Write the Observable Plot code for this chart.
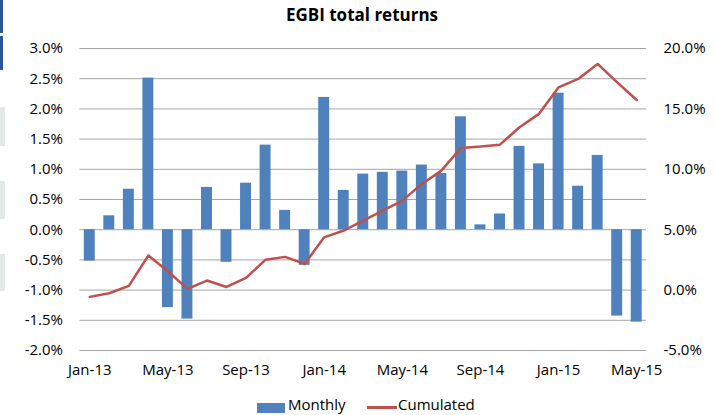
<!DOCTYPE html>
<html>
<head>
<meta charset="utf-8">
<script src="https://cdn.jsdelivr.net/npm/d3@7"></script>
<script src="https://cdn.jsdelivr.net/npm/@observablehq/plot@0.6"></script>
<style>
  html, body { margin: 0; padding: 0; background: #fff; }
  body { width: 716px; height: 415px; position: relative; overflow: hidden; font-family: "Open Sans", sans-serif; }
  #title { height: 30px; line-height: 30px; text-align: center; font-weight: bold; font-size: 17px; color: #000; padding-left: 8px; box-sizing: border-box; }
  #legend { position: relative; height: 25px; font-size: 15px; color: #000; }
  .deco { position: absolute; left: 0; }
</style>
</head>
<body>
<div class="deco" style="top:0;width:3px;height:33px;background:#2f5496"></div>
<div class="deco" style="top:36px;width:3px;height:34px;background:#2f5496"></div>
<div class="deco" style="top:107px;width:5px;height:39px;background:#e4e8e8"></div>
<div class="deco" style="top:181px;width:5px;height:38px;background:#e4e8e8"></div>
<div class="deco" style="top:254px;width:5px;height:37px;background:#e4e8e8"></div>
<div id="title">EGBI total returns</div>
<div id="chart"></div>
<div id="legend"></div>
<script>
const months = ["Jan-13","Feb-13","Mar-13","Apr-13","May-13","Jun-13","Jul-13","Aug-13","Sep-13","Oct-13","Nov-13","Dec-13",
                "Jan-14","Feb-14","Mar-14","Apr-14","May-14","Jun-14","Jul-14","Aug-14","Sep-14","Oct-14","Nov-14","Dec-14",
                "Jan-15","Feb-15","Mar-15","Apr-15","May-15"];
const monthly = [-0.52,0.23,0.67,2.51,-1.29,-1.48,0.70,-0.54,0.77,1.40,0.32,-0.59,
                 2.19,0.65,0.92,0.95,0.97,1.07,0.93,1.87,0.08,0.26,1.38,1.09,
                 2.26,0.72,1.23,-1.43,-1.53];
const cumulated = [-0.56,-0.26,0.35,2.86,1.56,0.10,0.79,0.26,1.01,2.52,2.75,2.17,
                   4.37,4.93,5.75,6.58,7.41,8.79,9.89,11.77,11.88,12.04,13.48,14.59,
                   16.79,17.48,18.72,17.20,15.74];
const xTickLabels = ["Jan-13","May-13","Sep-13","Jan-14","May-14","Sep-14","Jan-15","May-15"];
const leftTicks = [-2,-1.5,-1,-0.5,0,0.5,1,1.5,2,2.5,3];
const rightTicks = [-5,0,5,10,15,20];
const seriesNames = ["Monthly","Cumulated"];

const barColor = "#4f81bd";
const lineColor = "#c0504d";

// right axis (-5..20) mapped onto left axis (-2..3)
const toLeft = r => (r + 5) / 25 * 5 - 2;
const toRight = v => (v + 2) / 5 * 25 - 5;

const data = months.map((m, i) => ({month: m, monthly: monthly[i], cum: cumulated[i]}));

const chart = Plot.plot({
  width: 716,
  height: 360,
  marginTop: 18,
  marginBottom: 40,
  marginLeft: 79.5,
  marginRight: 70,
  style: {fontFamily: "Open Sans", fontSize: "15px", color: "#000", background: "white", overflow: "visible"},
  x: {type: "band", domain: months, paddingInner: 0.44, paddingOuter: 0.22, round: false, label: null},
  y: {domain: [-2, 3], label: null},
  marks: [
    Plot.ruleY(leftTicks, {stroke: "#a6a6a6", strokeWidth: 1}),
    Plot.barY(data, {x: "month", y: "monthly", fill: barColor}),
    Plot.line(data, {x: "month", y: d => toLeft(d.cum), stroke: lineColor, strokeWidth: 2.5}),
    Plot.axisX({ticks: xTickLabels, tickSize: 0, tickPadding: 14, fill: "#000", label: null}),
    Plot.axisY({anchor: "left", ticks: leftTicks, tickFormat: d => d.toFixed(1) + "%", tickSize: 0, tickPadding: 17, fill: "#000", label: null}),
    Plot.axisY({anchor: "right", ticks: rightTicks.map(toLeft), tickFormat: v => toRight(v).toFixed(1) + "%", tickSize: 0, tickPadding: 17, fill: "#000", textAnchor: "start", label: null})
  ]
});
document.getElementById("chart").appendChild(chart);

const legend = document.getElementById("legend");
legend.innerHTML = `
  <div style="position:absolute;left:257px;top:13px;width:28px;height:10px;background:${barColor}"></div>
  <div style="position:absolute;left:288px;top:2px;line-height:24px;">${seriesNames[0]}</div>
  <div style="position:absolute;left:367px;top:15.5px;width:30px;height:3px;background:${lineColor}"></div>
  <div style="position:absolute;left:398px;top:2px;line-height:24px;">${seriesNames[1]}</div>`;
</script>
</body>
</html>
